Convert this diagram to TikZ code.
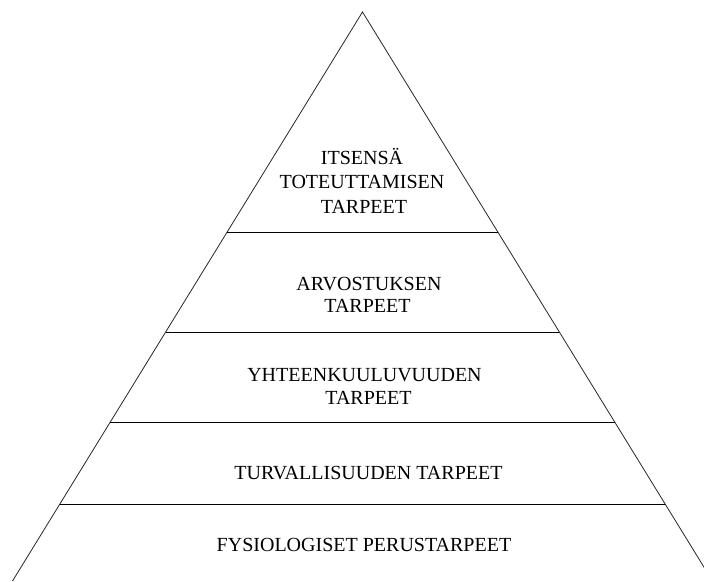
\documentclass[tikz,border=0pt]{standalone}
\usepackage{fontspec}
\setmainfont{Liberation Serif}
\usetikzlibrary{calc}
\begin{document}
\begin{tikzpicture}[x=1pt,y=-1pt,
  side/.style={line width=0.8pt, black!85},
  level/.style={line width=0.8pt, black},
  lbl/.style={anchor=base, inner sep=0pt, font=\fontsize{20}{24}\selectfont}]
\useasboundingbox (0,0) rectangle (704,581);
\clip (0,0) rectangle (704,581);
\coordinate (apex) at (362.5,12);
\coordinate (bl) at (12.5,581);
\coordinate (br) at (712.5,581);
\draw[side] (bl) -- (apex) -- (br);
\foreach \n/\f in {a/0.3866,b/0.5624,c/0.7206,d/0.8647} {
  \coordinate (l\n) at ($(apex)!\f!(bl)$);
  \coordinate (r\n) at ($(apex)!\f!(br)$);
  \draw[level] (l\n) -- (r\n);
}
\node[lbl] (t1a) at (362,164.5) {ITSENSÄ};
\node[lbl] (t1b) at (362,188.5) {TOTEUTTAMISEN};
\node[lbl] (t1c) at (364,213.5) {TARPEET};
\node[lbl] (t2a) at (369,290) {ARVOSTUKSEN};
\node[lbl] (t2b) at (367.5,312.5) {TARPEET};
\node[lbl] (t3a) at (364.5,381) {YHTEENKUULUVUUDEN};
\node[lbl] (t3b) at (368.5,404) {TARPEET};
\node[lbl] (t4) at (368.5,479.5) {TURVALLISUUDEN TARPEET};
\node[lbl] (t5) at (364,551.5) {FYSIOLOGISET PERUSTARPEET};
\end{tikzpicture}
\end{document}
